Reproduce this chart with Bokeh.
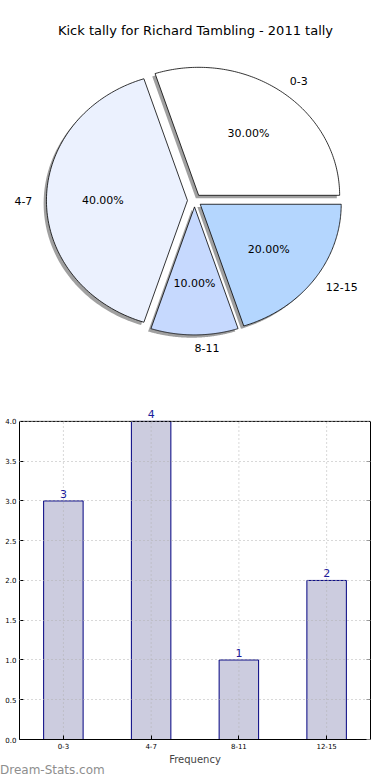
import numpy as np
from bokeh.plotting import figure
from bokeh.layouts import column
from bokeh.models import (ColumnDataSource, Range1d, Label, LabelSet, FixedTicker,
                          NumeralTickFormatter, LinearAxis, Span, Div)
from bokeh.embed import file_html
from bokeh.resources import INLINE
from bokeh.core.properties import value

# ---------------- data ----------------
title_text = "Kick tally for Richard Tambling - 2011 tally"
categories = ["0-3", "4-7", "8-11", "12-15"]
counts = [3, 4, 1, 2]
wedge_colors = ["#ffffff", "#ebf1fe", "#c6d9fe", "#b4d6fe"]
y_ticks = [0.0, 0.5, 1.0, 1.5, 2.0, 2.5, 3.0, 3.5, 4.0]
x_label = "Frequency"
watermark = "Dream-Stats.com"

FONT = "DejaVu Sans"
explode = 0.05
label_dist = 1.1
pct_dist = 0.6

# ---------------- pie ----------------
W = 390
pie_h = 376
rx, ry = 141.0, 128.0          # px per data unit
cx_px, cy_px = 194.0, pie_h - 200.0   # pie centre (from left, from bottom)

p1 = figure(width=W, height=pie_h, output_backend="svg", toolbar_location=None,
            x_range=Range1d(-cx_px / rx, (W - cx_px) / rx),
            y_range=Range1d(-cy_px / ry, (pie_h - cy_px) / ry),
            x_axis_location=None, y_axis_location=None,
            min_border=0)
p1.grid.visible = False
p1.outline_line_color = None

total = float(sum(counts))
fracs = np.array(counts) / total
ends = np.cumsum(fracs) * 2 * np.pi
starts = ends - fracs * 2 * np.pi
mids = (starts + ends) / 2

xs, ys, sxs, sys_ = [], [], [], []
for a0, a1, am in zip(starts, ends, mids):
    ox, oy = explode * np.cos(am), explode * np.sin(am)
    t = np.linspace(a0, a1, 120)
    px = np.concatenate([[ox], ox + np.cos(t), [ox]])
    py = np.concatenate([[oy], oy + np.sin(t), [oy]])
    xs.append(px.tolist()); ys.append(py.tolist())
    sxs.append((px - 0.02).tolist()); sys_.append((py - 0.022).tolist())

p1.patches(sxs, sys_, fill_color="#808080", fill_alpha=0.75, line_color=None)
p1.patches(xs=xs, ys=ys, fill_color=wedge_colors, line_color="black", line_width=0.8)

lab_x = ((explode + label_dist) * np.cos(mids)).tolist()
lab_y = ((explode + label_dist) * np.sin(mids)).tolist()
lab_align = ["left" if round(float(np.cos(m)), 6) >= 0 else "right" for m in mids]
p1.text(x=lab_x, y=lab_y, text=categories, text_align=lab_align,
        text_baseline="middle", text_font=value(FONT), text_font_size="11px",
        text_color="black")

pct_x = ((explode + pct_dist) * np.cos(mids)).tolist()
pct_y = ((explode + pct_dist) * np.sin(mids)).tolist()
pct_txt = ["%.2f%%" % (f * 100) for f in fracs]
p1.text(x=pct_x, y=pct_y, text=pct_txt, text_align="center",
        text_baseline="middle", text_font=value(FONT), text_font_size="11px",
        text_color="black")

p1.add_layout(Label(x=195, y=pie_h - 30, x_units="screen", y_units="screen",
                    text=title_text, text_align="center", text_baseline="middle",
                    text_font=FONT, text_font_size="13px", text_color="black"))

# ---------------- bar ----------------
bar_h = 391
y_top = y_ticks[-1]
xpos = list(range(len(categories)))
src = ColumnDataSource(dict(x=xpos, top=counts, lab=[str(c) for c in counts]))

p2 = figure(width=W, height=bar_h, output_backend="svg", toolbar_location=None,
            x_range=Range1d(-0.5, len(categories) - 0.5),
            y_range=Range1d(0, y_top * 1.05),
            min_border_top=29, min_border_bottom=27, min_border_left=19,
            min_border_right=20)
p2.vbar(x="x", top="top", bottom=0, width=0.45, source=src,
        fill_color="#ccccdf", line_color="#000080", line_width=1)

# vertical dotted grid lines, limited to the axes box
p2.segment(x0=xpos, y0=[0] * len(xpos), x1=xpos, y1=[y_top] * len(xpos),
           line_color="#b0b0b0", line_dash="1 3", line_width=1)

p2.add_layout(LabelSet(x="x", y="top", text="lab", source=src, y_offset=3,
                       text_align="center", text_baseline="bottom",
                       text_font=value(FONT), text_font_size="11px",
                       text_color="#1c1c9c"))

p2.xaxis.ticker = FixedTicker(ticks=xpos)
p2.xaxis.major_label_overrides = {i: c for i, c in zip(xpos, categories)}
p2.yaxis.ticker = FixedTicker(ticks=y_ticks)
p2.yaxis.formatter = NumeralTickFormatter(format="0.0")
p2.yaxis.bounds = (0, y_top)
p2.xaxis.axis_label = x_label

right_axis = LinearAxis(ticker=FixedTicker(ticks=y_ticks), bounds=(0, y_top),
                        major_label_overrides={t: "" for t in y_ticks},
                        major_label_standoff=0)
p2.add_layout(right_axis, "right")

for ax in (p2.xaxis[0], p2.yaxis[0], right_axis):
    ax.major_tick_in = 4
    ax.major_tick_out = 0
    ax.minor_tick_in = 0
    ax.minor_tick_out = 0
    ax.major_label_text_font = FONT
    ax.major_label_text_color = "black"
    ax.axis_line_color = "black"
    ax.major_tick_line_color = "black"
right_axis.major_tick_line_color = "#888888"
for ax in (p2.xaxis[0], p2.yaxis[0]):
    ax.major_label_text_font_size = "7px"
    ax.major_label_standoff = 3
p2.xaxis.axis_label_text_font = FONT
p2.xaxis.axis_label_text_font_size = "10px"
p2.xaxis.axis_label_text_font_style = "normal"
p2.xaxis.axis_label_standoff = 2
p2.outline_line_color = None
p2.xgrid.visible = False
p2.ygrid.ticker = FixedTicker(ticks=y_ticks)
p2.ygrid.grid_line_color = "#b0b0b0"
p2.ygrid.grid_line_dash = "1 3"
p2.ygrid.grid_line_width = 1
p2.ygrid.level = "overlay"

p2.add_layout(Span(location=y_top, dimension="width", line_color="black", line_width=1))

wm = Div(text=watermark, width=W, height=12, margin=(-3, 0, 0, 0),
         styles={"font-family": FONT, "font-size": "12px", "color": "#8e8e8e",
                 "line-height": "12px"})

layout = column(column(p1), column(p2, wm, spacing=0), spacing=0)
open("out.html", "w").write(file_html(layout, INLINE))
